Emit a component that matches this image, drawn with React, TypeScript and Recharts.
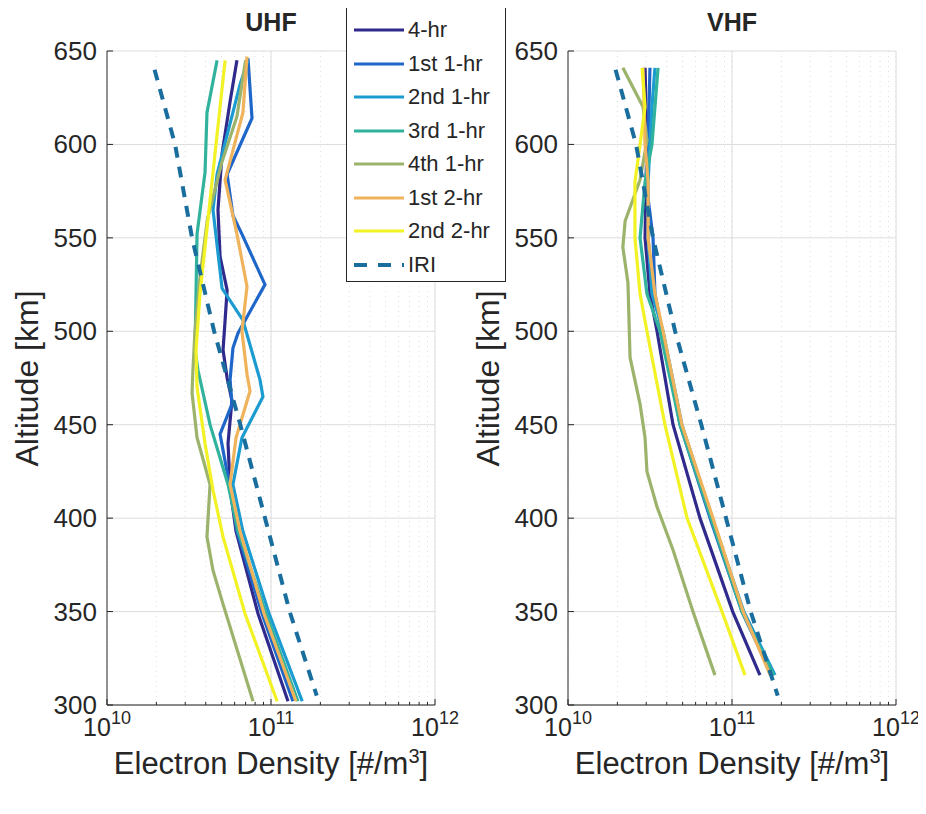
import { ScatterChart, Scatter, XAxis, YAxis, CartesianGrid } from 'recharts'

const FONT = '"Liberation Sans", Arial, Helvetica, sans-serif'
const INK = '#262626'

const ALTITUDE_TICKS = [300, 350, 400, 450, 500, 550, 600, 650]
const MAJOR_TICKS = [1e10, 1e11, 1e12]
const MINOR_TICKS = [2e10, 3e10, 4e10, 5e10, 6e10, 7e10, 8e10, 9e10, 2e11, 3e11, 4e11, 5e11, 6e11, 7e11, 8e11, 9e11]

const LABELS = ['4-hr', '1st 1-hr', '2nd 1-hr', '3rd 1-hr', '4th 1-hr', '1st 2-hr', '2nd 2-hr', 'IRI']
const COLORS = ['#302a8c', '#1f66c9', '#1b9bd0', '#31b29c', '#9cb36c', '#efb35c', '#f2f224', '#1a6e9e']

// IRI model profile (same in both panels)
const IRI_ALT = [640, 600, 550, 500, 450, 400, 350, 305]
const IRI = [1.95e10, 2.6e10, 3.3e10, 4.5e10, 6.5e10, 9.2e10, 1.3e11, 1.9e11]

// UHF profiles
const UHF_4HR_ALT = [645, 623, 595, 565, 540, 522, 506, 490, 475, 463, 440, 416, 393, 349, 302]
const UHF_4HR = [6.2e10, 5.63e10, 5.03e10, 4.75e10, 4.89e10, 5.4e10, 5.25e10, 5.1e10, 5.4e10, 5.78e10, 5.47e10, 5.63e10, 6.12e10, 8.33e10, 1.27e11]
const UHF_1ST_1HR_ALT = [646, 614, 584, 562, 552, 525, 499, 491, 474, 461, 445, 416, 393, 349, 302]
const UHF_1ST_1HR = [7.24e10, 7.66e10, 5.4e10, 5.86e10, 6.65e10, 9.19e10, 6.29e10, 5.86e10, 5.63e10, 5.78e10, 4.89e10, 5.63e10, 6.2e10, 8.81e10, 1.36e11]
const UHF_2ND_1HR_ALT = [645, 632, 584, 565, 523, 506, 474, 465, 443, 418, 393, 349, 302]
const UHF_2ND_1HR = [7.24e10, 6.47e10, 4.69e10, 4.43e10, 5.03e10, 6.74e10, 8.57e10, 8.93e10, 6.65e10, 5.86e10, 6.74e10, 9.72e10, 1.55e11]
const UHF_3RD_1HR_ALT = [645, 617, 585, 552, 520, 490, 479, 450, 418, 393, 349, 302]
const UHF_3RD_1HR = [4.69e10, 4.07e10, 3.96e10, 3.54e10, 3.49e10, 3.44e10, 3.59e10, 4.25e10, 5.47e10, 6.29e10, 9.32e10, 1.46e11]
const UHF_4TH_1HR_ALT = [645, 615, 590, 560, 530, 500, 479, 467, 443, 418, 390, 372, 354, 302]
const UHF_4TH_1HR = [7.0e10, 6.2e10, 5.0e10, 4.1e10, 3.7e10, 3.44e10, 3.34e10, 3.3e10, 3.54e10, 4.25e10, 4.07e10, 4.43e10, 5.1e10, 7.77e10]
const UHF_1ST_2HR_ALT = [647, 617, 581, 552, 524, 500, 477, 468, 443, 418, 393, 349, 302]
const UHF_1ST_2HR = [7.14e10, 6.74e10, 5.25e10, 6.2e10, 7.14e10, 6.65e10, 7.14e10, 7.45e10, 6.12e10, 5.63e10, 6.47e10, 9.06e10, 1.42e11]
const UHF_2ND_2HR_ALT = [645, 600, 560, 520, 490, 470, 440, 415, 390, 349, 302]
const UHF_2ND_2HR = [5.25e10, 4.62e10, 4.13e10, 3.69e10, 3.49e10, 3.54e10, 3.96e10, 4.43e10, 5.1e10, 6.94e10, 1.09e11]

// VHF profiles
const VHF_ALT = [641, 620, 600, 580, 550, 520, 500, 450, 400, 350, 316]
const VHF_4HR = [2.95e10, 2.99e10, 3.03e10, 2.99e10, 2.95e10, 3.16e10, 3.49e10, 4.37e10, 6.38e10, 1.01e11, 1.48e11]
const VHF_1ST_1HR = [3.16e10, 3.12e10, 3.08e10, 2.99e10, 3.3e10, 3.39e10, 3.74e10, 4.82e10, 7.35e10, 1.15e11, 1.75e11]
const VHF_2ND_1HR = [3.39e10, 3.25e10, 3.16e10, 3.08e10, 3.08e10, 3.25e10, 3.8e10, 4.95e10, 7.55e10, 1.18e11, 1.83e11]
const VHF_3RD_1HR = [3.54e10, 3.39e10, 3.25e10, 2.95e10, 2.75e10, 3.03e10, 3.64e10, 4.82e10, 7.45e10, 1.15e11, 1.8e11]
const VHF_4TH_1HR_ALT = [641, 620, 602, 581, 559, 545, 526, 486, 461, 443, 425, 406, 383, 350, 316]
const VHF_4TH_1HR = [2.16e10, 2.87e10, 3.03e10, 2.75e10, 2.23e10, 2.16e10, 2.32e10, 2.39e10, 2.75e10, 2.95e10, 3.03e10, 3.49e10, 4.37e10, 5.78e10, 7.87e10]
const VHF_1ST_2HR = [2.87e10, 2.91e10, 2.95e10, 3.08e10, 3.08e10, 3.39e10, 3.8e10, 4.95e10, 7.66e10, 1.17e11, 1.71e11]
const VHF_2ND_2HR = [2.83e10, 2.95e10, 2.75e10, 2.56e10, 2.56e10, 2.75e10, 3.03e10, 3.9e10, 5.32e10, 8.69e10, 1.2e11]

const toPoints = (alt: number[], dens: number[]) => alt.map((a, i) => ({ x: dens[i], y: a }))

const UHF = [
  toPoints(UHF_4HR_ALT, UHF_4HR),
  toPoints(UHF_1ST_1HR_ALT, UHF_1ST_1HR),
  toPoints(UHF_2ND_1HR_ALT, UHF_2ND_1HR),
  toPoints(UHF_3RD_1HR_ALT, UHF_3RD_1HR),
  toPoints(UHF_4TH_1HR_ALT, UHF_4TH_1HR),
  toPoints(UHF_1ST_2HR_ALT, UHF_1ST_2HR),
  toPoints(UHF_2ND_2HR_ALT, UHF_2ND_2HR),
  toPoints(IRI_ALT, IRI),
]

const VHF = [
  toPoints(VHF_ALT, VHF_4HR),
  toPoints(VHF_ALT, VHF_1ST_1HR),
  toPoints(VHF_ALT, VHF_2ND_1HR),
  toPoints(VHF_ALT, VHF_3RD_1HR),
  toPoints(VHF_4TH_1HR_ALT, VHF_4TH_1HR),
  toPoints(VHF_ALT, VHF_1ST_2HR),
  toPoints(VHF_ALT, VHF_2ND_2HR),
  toPoints(IRI_ALT, IRI),
]

const noDot = () => <g />

function XTick({ x, y, payload }: any) {
  const v = payload.value
  const major = MAJOR_TICKS.includes(v)
  const exp = Math.round(Math.log10(v))
  return (
    <g>
      <line x1={x} x2={x} y1={y} y2={y - (major ? 6 : 3)} stroke={INK} />
      {major && (
        <text x={x} y={y + 31} textAnchor="middle" fill={INK} fontSize={25} fontFamily={FONT}>
          10<tspan dy={-12} fontSize={18}>{exp}</tspan>
        </text>
      )}
    </g>
  )
}

function YTick({ x, y, payload }: any) {
  return (
    <g>
      <line x1={x} x2={x + 6} y1={y} y2={y} stroke={INK} />
      <text x={x - 10} y={y + 9} textAnchor="end" fill={INK} fontSize={26} fontFamily={FONT}>
        {payload.value}
      </text>
    </g>
  )
}

function Panel({ series, left, width }: { series: { x: number; y: number }[][]; left: number; width: number }) {
  return (
    <ScatterChart width={width} height={780} margin={{ top: 43, right: width - left - 328, bottom: 23, left: left - 60 }}>
      <CartesianGrid stroke="#dedede" strokeDasharray="1 4" horizontal={false} />
      <CartesianGrid stroke="#dcdcdc" verticalValues={[1e11, 1e12]} />
      <XAxis
        type="number"
        dataKey="x"
        scale="log"
        domain={[1e10, 1e12]}
        ticks={[...MAJOR_TICKS, ...MINOR_TICKS]}
        interval={0}
        allowDataOverflow
        height={60}
        tickSize={0}
        tickMargin={0}
        tickLine={false}
        axisLine={{ stroke: INK }}
        tick={<XTick />}
      />
      <YAxis
        type="number"
        dataKey="y"
        domain={[300, 650]}
        ticks={ALTITUDE_TICKS}
        interval={0}
        width={60}
        tickSize={0}
        tickMargin={0}
        tickLine={false}
        axisLine={{ stroke: INK }}
        tick={<YTick />}
      />
      {series.map((pts, i) => (
        <Scatter
          key={LABELS[i]}
          name={LABELS[i]}
          data={pts}
          line={{
            stroke: COLORS[i],
            strokeWidth: i === 7 ? 4 : 3.2,
            strokeDasharray: i === 7 ? '11 9' : undefined,
          }}
          lineType="joint"
          shape={noDot}
          isAnimationActive={false}
        />
      ))}
    </ScatterChart>
  )
}

const textStyle = { position: 'absolute' as const, fontFamily: FONT, color: INK, whiteSpace: 'nowrap' as const }

function Labels({ cx, title }: { cx: number; title: string }) {
  return (
    <>
      <div style={{ ...textStyle, left: cx - 60, width: 120, top: 0, textAlign: 'center', fontSize: 25, fontWeight: 'bold' }}>
        {title}
      </div>
      <div style={{ ...textStyle, left: cx - 170, width: 340, top: 738, textAlign: 'center', fontSize: 31, lineHeight: '36px' }}>
        Electron Density [#/m<sup style={{ fontSize: 20, lineHeight: 0 }}>3</sup>]
      </div>
    </>
  )
}

export default function App() {
  return (
    <div style={{ position: 'relative', width: 910, height: 780, background: '#fff', overflow: 'visible' }}>
      <div style={{ position: 'absolute', left: 0, top: 0 }}>
        <Panel series={UHF} left={99} width={455} />
      </div>
      <div style={{ position: 'absolute', left: 458, top: 0 }}>
        <Panel series={VHF} left={102} width={458} />
      </div>
      <Labels cx={263} title="UHF" />
      <Labels cx={724} title="VHF" />
      {[19, 480].map((cx) => (
        <div
          key={cx}
          style={{ ...textStyle, left: cx - 110, width: 220, top: 370 - 18, textAlign: 'center', fontSize: 32, transform: 'rotate(-90deg)' }}
        >
          Altitude [km]
        </div>
      ))}
      <div
        style={{
          position: 'absolute',
          left: 338,
          top: -1,
          width: 158,
          height: 273,
          background: '#fff',
          border: `1px solid ${INK}`,
          zIndex: 5,
        }}
      >
        {LABELS.map((label, i) => (
          <div key={label} style={{ position: 'absolute', left: 0, top: 8 + i * 33.5, height: 28, display: 'flex', alignItems: 'center' }}>
            <svg width={60} height={28}>
              <line
                x1={7}
                x2={57}
                y1={14}
                y2={14}
                stroke={COLORS[i]}
                strokeWidth={i === 7 ? 4 : 3.2}
                strokeDasharray={i === 7 ? '13 11' : undefined}
              />
            </svg>
            <span style={{ fontFamily: FONT, fontSize: 22, color: INK, marginLeft: 1 }}>{label}</span>
          </div>
        ))}
      </div>
    </div>
  )
}
